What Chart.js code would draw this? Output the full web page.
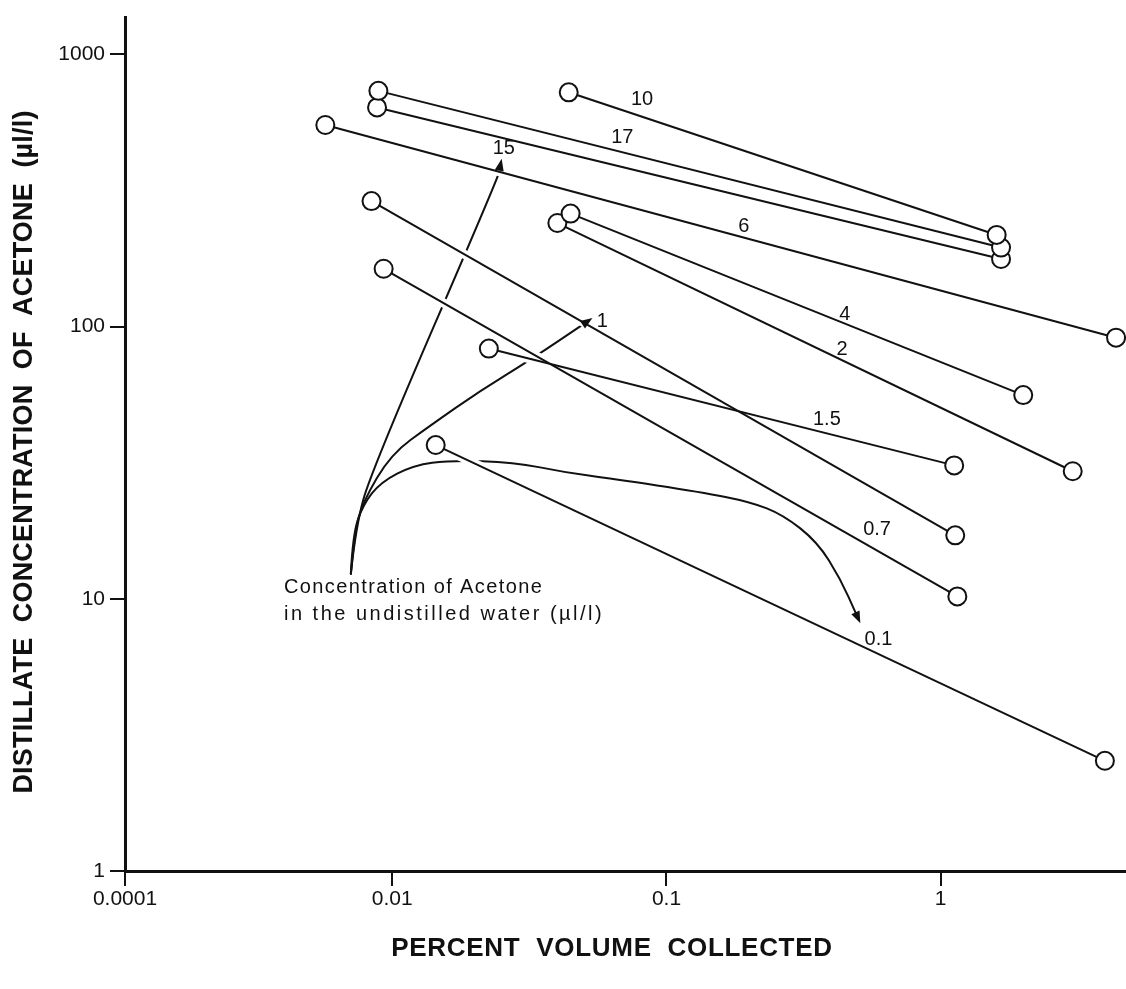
<!DOCTYPE html>
<html>
<head>
<meta charset="utf-8">
<script src="https://cdn.jsdelivr.net/npm/chart.js@4.4.1/dist/chart.umd.min.js"></script>
<style>
  html, body { margin: 0; padding: 0; background: #fff; }
  canvas { display: block; }
</style>
</head>
<body>
<canvas id="chart" width="1126" height="989"></canvas>
<script>
// Acetone concentration of the undistilled water for each run (µl/l)
const runNames = ['10', '17', '15', '6', '4', '2', '1', '1.5', '0.7', '0.1'];
// Percent volume collected at the first and the last sample of each run
const volumeFirst = [0.044, 0.0089, 0.0088, 0.0057, 0.0447, 0.040, 0.0084, 0.0225, 0.0093, 0.0144];
const volumeLast  = [1.60, 1.66, 1.66, 4.36, 2.0, 3.03, 1.13, 1.12, 1.15, 3.97];
// Distillate concentration of acetone at those samples (µl/l)
const concFirst = [725, 734, 638, 550, 260, 240, 289, 83, 163, 36.7];
const concLast  = [217, 195, 177, 91, 56, 29.4, 17.1, 30.9, 10.2, 2.54];
// Axis ticks
const xTickValues = [0.00106, 0.01, 0.1, 1];
const xTickLabels = ['0.0001', '0.01', '0.1', '1'];
const yTickValues = [1, 10, 100, 1000];
const yTickLabels = ['1', '10', '100', '1000'];

const INK = '#111';
const FONT = '"Liberation Sans", Arial, sans-serif';

// Where each run's name sits beside its line (data values)
const nameSpots = [
  [0.0815, 684], [0.069, 495], [0.0255, 450], [0.1914, 233], [0.4467, 111],
  [0.4365, 82.4], [0.0583, 104.5], [0.3846, 45.7], [0.586, 17.9], [0.593, 7.08]
];

// Leader curves from the note to the run names, in decades [log10 x, log10 y]
const leaders = [
  [[-2.151, 1.092], [-2.133, 1.264], [-2.078, 1.465], [-1.616, 2.543], [-1.601, 2.616]],
  [[-2.151, 1.092], [-2.137, 1.246], [-2.107, 1.356], [-2.005, 1.531], [-1.860, 1.637],
   [-1.678, 1.765], [-1.495, 1.878], [-1.270, 2.031]],
  [[-2.151, 1.092], [-2.144, 1.235], [-2.107, 1.345], [-2.042, 1.429], [-1.922, 1.491],
   [-1.787, 1.509], [-1.557, 1.502], [-1.375, 1.465], [-1.193, 1.440], [-0.876, 1.392],
   [-0.694, 1.356], [-0.574, 1.308], [-0.450, 1.209], [-0.366, 1.074], [-0.293, 0.910]]
];
const noteAnchor = [-2.395, 1.041];
const noteLines = [
  { text: 'Concentration of Acetone', spacing: 1.4 },
  { text: 'in the undistilled water (µl/l)', spacing: 2.5 }
];

const datasets = runNames.map((name, i) => ({
  label: name,
  data: [{ x: volumeFirst[i], y: concFirst[i] }, { x: volumeLast[i], y: concLast[i] }],
  showLine: true,
  borderColor: INK,
  borderWidth: 2,
  pointRadius: 9,
  pointHoverRadius: 9,
  pointBorderWidth: 2,
  pointBorderColor: INK,
  pointBackgroundColor: '#fff',
  clip: false
}));

function drawSpaced(ctx, text, x, y, spacing) {
  ctx.letterSpacing = spacing + 'px';
  ctx.fillText(text, x, y);
  ctx.letterSpacing = '0px';
}

const decor = {
  id: 'decor',
  beforeDatasetsDraw(chart) {
    const { ctx, scales: { x, y } } = chart;
    const P = ([lx, ly]) => [x.getPixelForValue(10 ** lx), y.getPixelForValue(10 ** ly)];
    ctx.save();
    const heads = [];
    ctx.strokeStyle = INK;
    ctx.lineWidth = 2;
    ctx.lineJoin = 'round';
    ctx.lineCap = 'round';
    leaders.forEach(path => {
      const pts = path.map(P);
      const tip = pts[pts.length - 1];
      const prev = pts[pts.length - 2];
      const len = Math.hypot(tip[0] - prev[0], tip[1] - prev[1]);
      const dir = [(tip[0] - prev[0]) / len, (tip[1] - prev[1]) / len];
      const base = [tip[0] - dir[0] * 9, tip[1] - dir[1] * 9];
      heads.push({ tip, dir });
      ctx.beginPath();
      ctx.moveTo(pts[0][0], pts[0][1]);
      for (let i = 1; i < pts.length - 1; i++) {
        const nx = i === pts.length - 2 ? base : pts[i + 1];
        const mx = (pts[i][0] + nx[0]) / 2, my = (pts[i][1] + nx[1]) / 2;
        ctx.quadraticCurveTo(pts[i][0], pts[i][1], mx, my);
      }
      ctx.lineTo(base[0], base[1]);
      ctx.stroke();
    });
    // break the leader curves where a data line runs across them
    ctx.strokeStyle = '#fff';
    ctx.lineWidth = 9;
    ctx.lineCap = 'butt';
    chart.data.datasets.forEach((ds, i) => {
      const el = chart.getDatasetMeta(i).data;
      ctx.beginPath();
      ctx.moveTo(el[0].x, el[0].y);
      ctx.lineTo(el[1].x, el[1].y);
      ctx.stroke();
    });
    // arrowheads
    ctx.fillStyle = INK;
    heads.forEach(({ tip, dir }) => {
      const L = 12, W = 4.5;
      const bx = tip[0] - dir[0] * L, by = tip[1] - dir[1] * L;
      ctx.beginPath();
      ctx.moveTo(tip[0], tip[1]);
      ctx.lineTo(bx - dir[1] * W, by + dir[0] * W);
      ctx.lineTo(bx + dir[1] * W, by - dir[0] * W);
      ctx.closePath();
      ctx.fill();
    });
    ctx.restore();
  },
  afterDatasetsDraw(chart) {
    const { ctx, scales: { x, y } } = chart;
    ctx.save();
    ctx.fillStyle = INK;
    ctx.font = '20px ' + FONT;
    ctx.textAlign = 'center';
    ctx.textBaseline = 'middle';
    chart.data.datasets.forEach((ds, i) => {
      const [vx, vy] = nameSpots[i];
      ctx.fillText(ds.label, x.getPixelForValue(vx), y.getPixelForValue(vy));
    });
    // note explaining the run names
    ctx.textAlign = 'left';
    const ax = x.getPixelForValue(10 ** noteAnchor[0]);
    const ay = y.getPixelForValue(10 ** noteAnchor[1]);
    noteLines.forEach((ln, k) => drawSpaced(ctx, ln.text, ax, ay + k * 27, ln.spacing));
    ctx.restore();
  },
  afterDraw(chart) {
    const { ctx } = chart;
    ctx.save();
    ctx.fillStyle = INK;
    ctx.textAlign = 'center';
    ctx.textBaseline = 'middle';
    // x axis title
    ctx.font = 'bold 26px ' + FONT;
    drawSpaced(ctx, 'PERCENT  VOLUME  COLLECTED', 612, 949, 0.7);
    // y axis title
    ctx.translate(25, 452);
    ctx.rotate(-Math.PI / 2);
    ctx.font = 'bold 27px ' + FONT;
    drawSpaced(ctx, 'DISTILLATE  CONCENTRATION  OF  ACETONE  (µl/l)', 0, 0, 0.2);
    ctx.restore();
  }
};

const axisCommon = {
  type: 'logarithmic',
  grid: { drawOnChartArea: false, drawTicks: true, tickLength: 15, color: INK, lineWidth: 2 },
  border: { display: true, color: INK, width: 3 },
};

new Chart(document.getElementById('chart'), {
  type: 'scatter',
  data: { datasets },
  plugins: [decor],
  options: {
    responsive: false,
    animation: false,
    events: [],
    layout: { autoPadding: false, padding: { top: 13, right: 0, bottom: 0, left: 0 } },
    plugins: { legend: { display: false }, tooltip: { enabled: false } },
    scales: {
      x: {
        ...axisCommon,
        position: 'bottom',
        min: xTickValues[0],
        max: 4.74,
        afterBuildTicks: s => { s.ticks = xTickValues.map(v => ({ value: v })); },
        afterFit: s => { s.height = 118; },
        ticks: {
          autoSkip: false, maxRotation: 0, minRotation: 0, padding: 1, color: INK,
          font: { family: FONT, size: 21 },
          callback: (v, i) => xTickLabels[i]
        }
      },
      y: {
        ...axisCommon,
        position: 'left',
        min: yTickValues[0],
        max: 1364,
        afterBuildTicks: s => { s.ticks = yTickValues.map(v => ({ value: v })); },
        afterFit: s => { s.width = 125; },
        ticks: {
          autoSkip: false, padding: 5, color: INK,
          font: { family: FONT, size: 21 },
          callback: (v, i) => yTickLabels[i]
        }
      }
    }
  }
});
</script>
</body>
</html>
